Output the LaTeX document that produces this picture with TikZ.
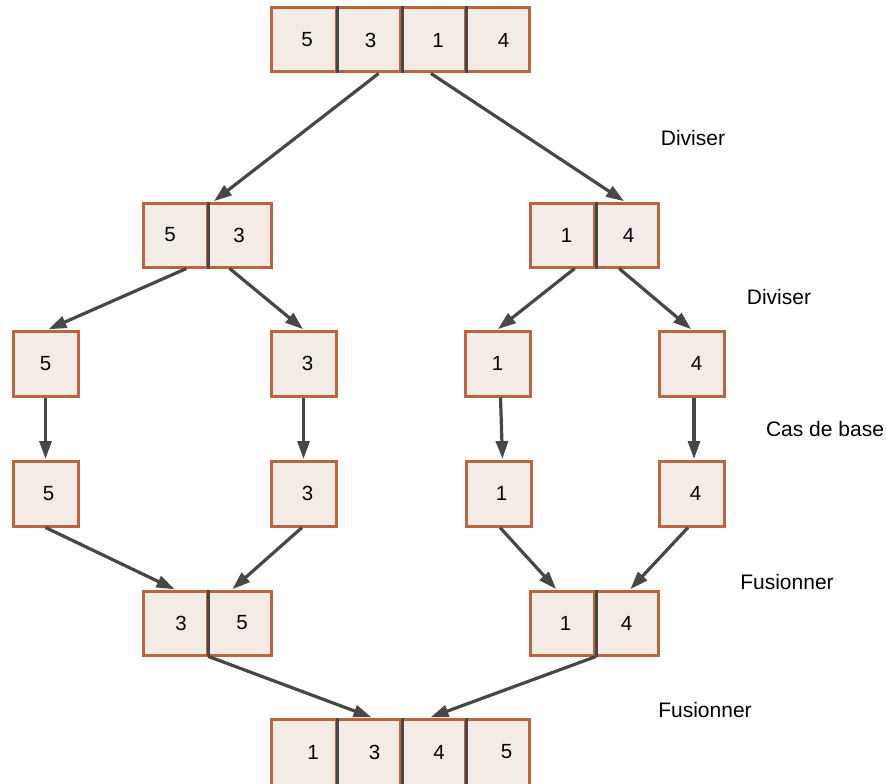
\documentclass[tikz,border=0pt]{standalone}
\usepackage{fontspec}
\setmainfont{Liberation Sans}
\usetikzlibrary{arrows.meta,calc}
\definecolor{cellfill}{HTML}{F5EBE6}
\definecolor{rust}{HTML}{B9653F}
\definecolor{darkline}{HTML}{474747}
\tikzset{
  cell/.style={draw=rust, fill=cellfill, line width=3pt, minimum width=64.5pt, minimum height=64pt, inner sep=0pt, font=\fontsize{20.5}{24}\selectfont},
  sq/.style={cell, minimum width=65pt, minimum height=65pt},
  divider/.style={draw=darkline, line width=3pt},
  conn/.style={draw=darkline, line width=3.2pt, -{Triangle[length=18pt,width=12pt]}, shorten >=0.5pt},
  steplabel/.style={font=\fontsize{21}{24}\selectfont, inner sep=0pt}
}
\begin{document}
\begin{tikzpicture}[x=1pt,y=-1pt]
\useasboundingbox (0,0) rectangle (886,784);
% top row
\node[cell] (t1) at (304,40) {\hspace*{6pt}5};
\node[cell] (t2) at (368.5,40) {\hspace*{4pt}3};
\node[cell] (t3) at (433,40) {\hspace*{10pt}1};
\node[cell] (t4) at (497.5,40) {\hspace*{12pt}4};
\draw[divider] (t1.north east) -- (t1.south east);
\draw[divider] (t2.north east) -- (t2.south east);
\draw[divider] (t3.north east) -- (t3.south east);
% level 2
\node[cell, minimum width=64pt] (a1) at (175,235) {\hspace*{-10pt}5};
\node[cell, minimum width=64pt] (a2) at (239,235) {3};
\draw[divider] (a1.north east) -- (a1.south east);
\node[cell, minimum width=64pt] (b1) at (562.5,235) {\hspace*{8pt}1};
\node[cell, minimum width=64pt] (b2) at (626.5,235) {\hspace*{4pt}4};
\draw[divider] (b1.north east) -- (b1.south east);
% level 3
\node[sq] (c1) at (45.5,363.5) {5};
\node[sq] (c2) at (303.5,363.5) {\hspace*{8pt}3};
\node[sq] (c3) at (497.5,363.5) {1};
\node[sq] (c4) at (691.5,363.5) {\hspace*{10pt}4};
% level 4
\node[sq] (d1) at (45.5,493.5) {\hspace*{6pt}5};
\node[sq] (d2) at (303.5,493.5) {\hspace*{8pt}3};
\node[sq] (d3) at (498.5,493.5) {\hspace*{6pt}1};
\node[sq] (d4) at (691.5,493.5) {\hspace*{8pt}4};
% level 5
\node[cell, minimum width=64pt] (e1) at (175,623) {\hspace*{12pt}3};
\node[cell, minimum width=64pt] (e2) at (239,623) {\hspace*{6pt}5};
\draw[divider] (e1.north east) -- (e1.south east);
\node[cell, minimum width=64pt] (f1) at (562.5,623) {\hspace*{6pt}1};
\node[cell, minimum width=64pt] (f2) at (626.5,623) {\hspace*{0pt}4};
\draw[divider] (f1.north east) -- (f1.south east);
% bottom row
\node[cell, minimum height=66pt] (g1) at (304,752) {\hspace*{18pt}1};
\node[cell, minimum height=66pt] (g2) at (368.5,752) {\hspace*{12pt}3};
\node[cell, minimum height=66pt] (g3) at (433,752) {\hspace*{12pt}4};
\node[cell, minimum height=66pt] (g4) at (497.5,752) {\hspace*{18pt}5};
\draw[divider] (g1.north east) -- (g1.south east);
\draw[divider] (g2.north east) -- (g2.south east);
\draw[divider] (g3.north east) -- (g3.south east);
% connectors
\draw[conn] ($(t2.south west)!0.65!(t2.south east)$) -- ($(a1.north east)+(5,0)$);
\draw[conn] ($(t3.south west)!0.47!(t3.south east)$) -- ($(b2.north)+(-2,0)$);
\draw[conn] ($(a1.south west)!0.67!(a1.south east)$) -- ($(c1.north)+(2.5,0)$);
\draw[conn] ($(a2.south west)!0.36!(a2.south east)$) -- (c2.north);
\draw[conn] ($(b1.south west)!0.68!(b1.south east)$) -- (c3.north);
\draw[conn] ($(b2.south west)!0.39!(b2.south east)$) -- (c4.north);
\draw[conn] (c1.south) -- (d1.north);
\draw[conn] (c2.south) -- (d2.north);
\draw[conn] ($(c3.south)+(3,0)$) -- ($(d3.north)+(4,0)$);
\draw[conn] ($(c4.south)+(2.5,0)$) -- ($(d4.north)+(2.5,0)$);
\draw[conn] (d1.south) -- (e1.north);
\draw[conn] ($(d2.south)+(-1.5,0)$) -- ($(e2.north)+(-7,0)$);
\draw[conn] ($(d3.south)+(1.5,0)$) -- ($(f1.north)+(-6,0)$);
\draw[conn] ($(d4.south)+(-3.5,0)$) -- ($(f2.north)+(3.5,0)$);
\draw[conn] (e1.south east) -- ($(g2.north)+(3.5,0)$);
\draw[conn] (f1.south east) -- ($(g3.north)+(-3,0)$);
% labels
\node[steplabel] (l1) at (693,138) {Diviser};
\node[steplabel] (l2) at (779,297) {Diviser};
\node[steplabel] (l3) at (825,429) {Cas de base};
\node[steplabel] (l4) at (787,582) {Fusionner};
\node[steplabel] (l5) at (705,710) {Fusionner};
\end{tikzpicture}
\end{document}
